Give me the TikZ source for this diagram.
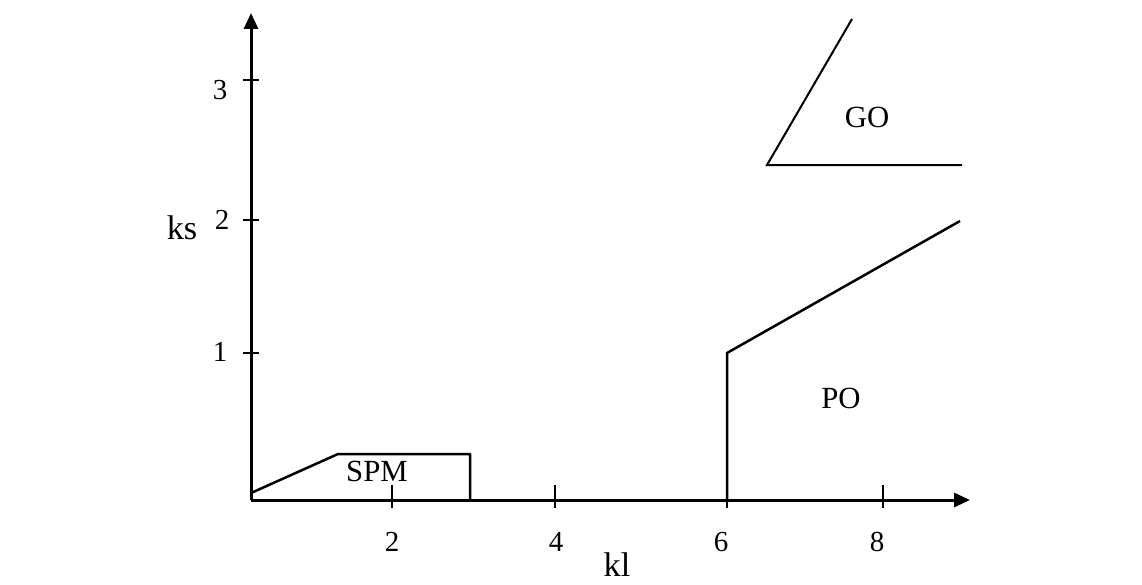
\documentclass[tikz,border=0pt]{standalone}
\usepackage{fontspec}
\setmainfont{Liberation Serif}
\usepackage{tikz}
\usetikzlibrary{arrows.meta}

\begin{document}
\begin{tikzpicture}
            \useasboundingbox (0.000000,0.000000) rectangle (22.840000,11.680000);
            {\fontsize{16.5}{19}\selectfont
            
            % Drawing axes kl and ks
            \coordinate (O) at (5.020000,1.680000);%
            \draw [line width=0.060cm, -{Triangle[length=0.32cm,width=0.28cm]}] (O) -- (19.400000,1.680000);%
            \draw [line width=0.060cm, -{Triangle[length=0.32cm,width=0.28cm]}] (O) -- (5.020000,11.420000);%
            \draw (12.340000,0.380000) node {\fontsize{19.5}{22}\selectfont kl};%
            \draw (3.640000,7.120000) node {\fontsize{19.5}{22}\selectfont ks};%
            
            % Marking ticks on kl
            \draw [line width=0.045cm] (7.840000,1.980000) -- (7.840000,1.520000);%
            \draw (7.840000,0.840000) node { 2 };%
            \draw [line width=0.045cm] (11.100000,1.980000) -- (11.100000,1.520000);%
            \draw (11.120000,0.840000) node { 4 };%
            \draw [line width=0.045cm] (14.540000,1.680000) -- (14.540000,1.520000);%
            \draw (14.420000,0.840000) node { 6 };%
            \draw [line width=0.045cm] (17.660000,1.980000) -- (17.660000,1.520000);%
            \draw (17.540000,0.840000) node { 8 };%
            
            % Marking ticks on ks
            \draw [line width=0.045cm] (4.860000,4.620000) -- (5.180000,4.620000);%
            \draw (4.400000,4.640000) node { 1 };%
            \draw [line width=0.045cm] (4.860000,7.280000) -- (5.180000,7.280000);%
            \draw (4.440000,7.280000) node { 2 };%
            \draw [line width=0.045cm] (4.860000,10.080000) -- (5.180000,10.080000);%
            \draw (4.400000,9.880000) node { 3 };%
            
            % Drawing region SPM
            \draw [line width=0.050cm, line join=round] (5.020000,1.820000) -- (6.760000,2.600000) -- (9.400000,2.600000) -- (9.400000,1.680000);%
            \draw (7.540000,2.260000) node {\fontsize{17.5}{20}\selectfont SPM};%
            
            % Drawing region PO
            \draw [line width=0.050cm] (14.540000,1.680000) -- (14.540000,4.620000) -- (19.200000,7.260000);%
            \draw (16.820000,3.720000) node {\fontsize{17.5}{20}\selectfont PO};%
            
            % Drawing region GO
            \draw [line width=0.040cm] (17.040000,11.300000) -- (15.340000,8.380000) -- (19.240000,8.380000);%
            \draw (17.340000,9.340000) node {\fontsize{17.5}{20}\selectfont GO};%
            }
        \end{tikzpicture}
\end{document}
